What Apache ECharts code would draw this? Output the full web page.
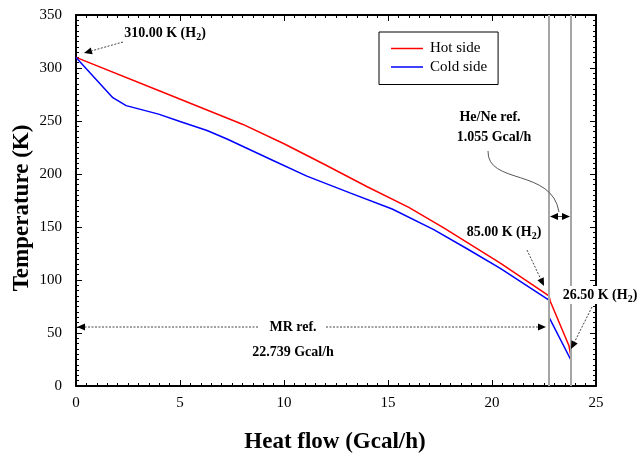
<!DOCTYPE html>
<html>
<head>
<meta charset="utf-8">
<script src="https://cdn.jsdelivr.net/npm/echarts@6/dist/echarts.min.js"></script>
<style>html,body{margin:0;padding:0;background:#fff;}#c{width:640px;height:456px;}</style>
</head>
<body>
<div id="c"></div>
<script>
// Data
const hotX = [0, 4, 8, 10, 12, 14, 16, 17.7, 20.4, 22.739, 22.8, 23.7, 23.794];
const hotT = [310, 278.5, 247, 228.5, 208.5, 188, 168.5, 149, 116, 85, 80, 38, 28];
const coldX = [0, 1.77, 2.41, 3.97, 5, 6.3, 7.26, 9.5, 11.1, 13.2, 15.2, 17.2, 18.8, 20.4, 22.739];
const coldT = [310, 272, 264.5, 256.5, 249.5, 241, 233, 212.5, 198, 182, 167, 147.5, 129.5, 111, 81];
const cold2X = [22.739, 23.794];
const cold2T = [65, 24.5];
const refLines = [22.739, 23.794];
const xTicks = [0, 5, 10, 15, 20, 25];
const yTicks = [0, 50, 100, 150, 200, 250, 300, 350];

const FONT = '"Liberation Serif", "Times New Roman", serif';
const zip = (xs, ys) => xs.map((x, i) => [x, ys[i]]);

function axisBase(extra) {
  return Object.assign({
    type: 'value',
    axisLine: { show: true, onZero: false, lineStyle: { color: '#000', width: 2 } },
    axisTick: { show: true, inside: true, length: 6, lineStyle: { color: '#000', width: 1 } },
    minorTick: { show: true, splitNumber: 10, length: 3, lineStyle: { color: '#000', width: 1 } },
    splitLine: { show: false },
    minorSplitLine: { show: false }
  }, extra);
}
const xLab = { show: true, fontFamily: FONT, fontSize: 15, color: '#000', margin: 10 };
const yLab = { show: true, fontFamily: FONT, fontSize: 15, color: '#000', margin: 14 };

const chart = echarts.init(document.getElementById('c'), null, { renderer: 'canvas' });

function arrow(x1, y1, x2, y2) {
  const a = Math.atan2(y2 - y1, x2 - x1), L = 8, W = 3.5;
  const c = Math.cos(a), s = Math.sin(a);
  const bx = x2 - L * c, by = y2 - L * s;
  return [
    { type: 'line', shape: { x1: x1, y1: y1, x2: bx, y2: by }, style: { stroke: '#444', lineWidth: 1, lineDash: [2, 1.5] }, z: 100 },
    { type: 'polygon', shape: { points: [[x2, y2], [bx - W * s, by + W * c], [bx + W * s, by - W * c]] }, style: { fill: '#000' }, z: 100 }
  ];
}
function label(txt, x, y, sub, bg) {
  const rich = {
    b: { fontFamily: FONT, fontSize: 14, fontWeight: 'bold', fill: '#000' },
    s: { fontFamily: FONT, fontSize: 10, fontWeight: 'bold', fill: '#000', padding: [8, 0, 0, 0] }
  };
  const text = sub ? '{b|' + txt + '}{s|2}{b|)}' : '{b|' + txt + '}';
  const style = { text: text, rich: rich, align: 'center', verticalAlign: 'middle' };
  if (bg) { style.backgroundColor = '#fff'; style.padding = [0, 1, 0, 1]; }
  return { type: 'text', x: x, y: y, z: 100, style: style };
}

const g = [];
g.push(label('310.00 K (H', 165, 33, true));
g.push(...arrow(123, 42, 84, 53));
g.push(label('He/Ne ref.', 490, 117));
g.push(label('1.055 Gcal/h', 494, 137));
g.push({ type: 'bezierCurve', z: 100, shape: { x1: 488, y1: 151, cpx1: 487, cpy1: 185, cpx2: 552, cpy2: 168, x2: 559, y2: 212 }, style: { stroke: '#555', lineWidth: 1, fill: null } });
g.push(...arrow(560, 216.5, 550, 216.5));
g.push(...arrow(560, 216.5, 570, 216.5));
g.push(label('85.00 K (H', 504, 232, true));
g.push(...arrow(527, 250, 544, 286));
g.push(label('26.50 K (H', 600, 295, true, true));
g.push(...arrow(592, 307, 571, 349));
g.push(label('MR ref.', 293, 327));
g.push(...arrow(258, 327, 77, 327));
g.push(...arrow(326, 327, 546, 327));
g.push(label('22.739 Gcal/h', 293, 352));
g.push({ type: 'text', x: 335, y: 442, style: { text: 'Heat flow (Gcal/h)', fontFamily: FONT, fontSize: 23, fontWeight: 'bold', fill: '#000', align: 'center', verticalAlign: 'middle' } });
g.push({ type: 'text', x: 22, y: 208, rotation: Math.PI / 2, style: { text: 'Temperature (K)', fontFamily: FONT, fontSize: 23, fontWeight: 'bold', fill: '#000', align: 'center', verticalAlign: 'middle' } });

chart.setOption({
  animation: false,
  backgroundColor: '#fff',
  grid: { left: 76, right: 44, top: 15, bottom: 70, containLabel: false },
  legend: {
    data: ['Hot side', 'Cold side'],
    orient: 'vertical', left: 379, top: 32,
    icon: 'rect',
    itemWidth: 32, itemHeight: 1.5, itemGap: 3.5,
    padding: [9, 11, 10, 12],
    borderColor: '#000', borderWidth: 1,
    textStyle: { fontFamily: FONT, fontSize: 15, color: '#000', padding: [0, 0, 0, 2] }
  },
  xAxis: [
    axisBase({ min: xTicks[0], max: xTicks[xTicks.length - 1], interval: xTicks[1] - xTicks[0], position: 'bottom', axisLabel: xLab }),
    axisBase({ min: xTicks[0], max: xTicks[xTicks.length - 1], interval: xTicks[1] - xTicks[0], position: 'top', axisLabel: { show: false } })
  ],
  yAxis: [
    axisBase({ min: yTicks[0], max: yTicks[yTicks.length - 1], interval: yTicks[1] - yTicks[0], position: 'left', axisLabel: yLab }),
    axisBase({ min: yTicks[0], max: yTicks[yTicks.length - 1], interval: yTicks[1] - yTicks[0], position: 'right', axisLabel: { show: false } })
  ],
  series: [
    {
      name: 'refs', type: 'line', data: [], z: 1,
      markLine: {
        silent: true, symbol: 'none', label: { show: false },
        lineStyle: { color: '#a6a6a6', width: 2, type: 'solid' },
        data: refLines.map(v => ({ xAxis: v }))
      }
    },
    { name: 'Hot side', type: 'line', data: zip(hotX, hotT), symbol: 'none', z: 3, lineStyle: { color: '#ff0000', width: 1.5 }, itemStyle: { color: '#ff0000' } },
    { name: 'Cold side', type: 'line', data: zip(coldX, coldT), symbol: 'none', z: 3, lineStyle: { color: '#0000ff', width: 1.5 }, itemStyle: { color: '#0000ff' } },
    { name: 'Cold side', type: 'line', data: zip(cold2X, cold2T), symbol: 'none', z: 3, lineStyle: { color: '#0000ff', width: 1.5 }, itemStyle: { color: '#0000ff' } }
  ],
  graphic: g
});
</script>
</body>
</html>
